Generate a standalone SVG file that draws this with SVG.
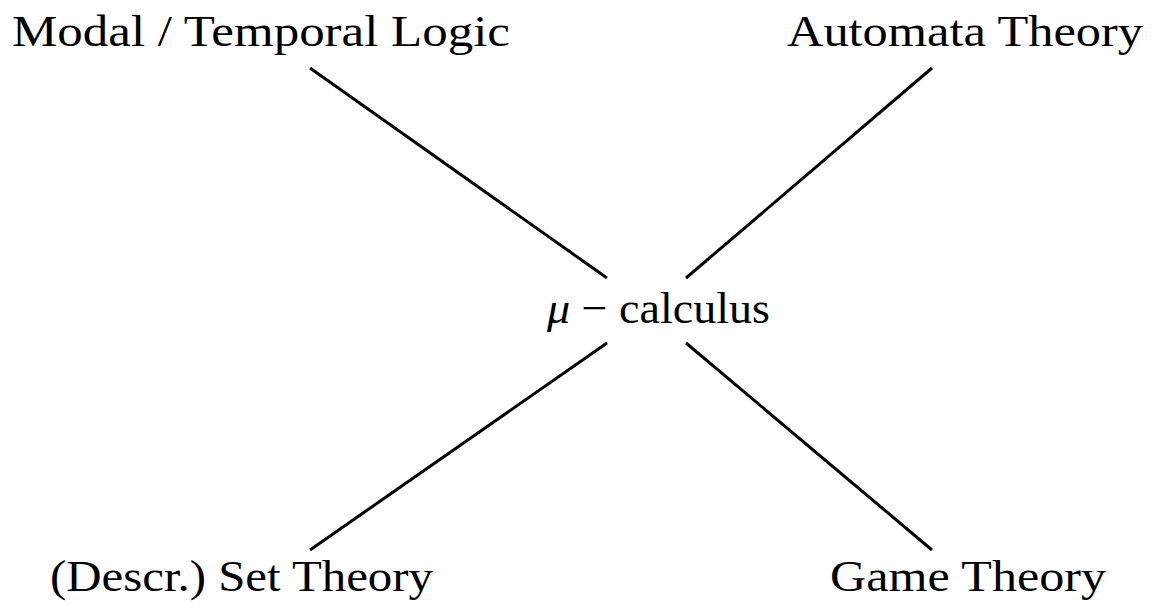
<svg xmlns="http://www.w3.org/2000/svg" width="1154" height="610" viewBox="0 0 1154 610">
<style>
text{font-family:"Liberation Serif","DejaVu Serif",serif;font-size:44px;fill:#000}
.e{stroke:#000;stroke-width:3;stroke-linecap:butt;fill:none}
</style>
<rect width="1154" height="610" fill="#fff"/>
<g id="connectors">
<line class="e" x1="310" y1="68" x2="607" y2="278"/>
<line class="e" x1="932" y1="68" x2="686" y2="278"/>
<line class="e" x1="607" y1="343" x2="310" y2="550"/>
<line class="e" x1="686" y1="343" x2="932" y2="550"/>
</g>
<g id="modal"><text x="12" y="46" textLength="498" lengthAdjust="spacingAndGlyphs">Modal / Temporal Logic</text></g>
<g id="automata"><text x="787" y="46" textLength="356" lengthAdjust="spacingAndGlyphs">Automata Theory</text></g>
<g id="mu"><text x="547" y="323" textLength="223" lengthAdjust="spacingAndGlyphs"><tspan font-style="italic">μ</tspan> − calculus</text></g>
<g id="set"><text x="50" y="591" textLength="383" lengthAdjust="spacingAndGlyphs">(Descr.) Set Theory</text></g>
<g id="game"><text x="830" y="591" textLength="276" lengthAdjust="spacingAndGlyphs">Game Theory</text></g>
</svg>
